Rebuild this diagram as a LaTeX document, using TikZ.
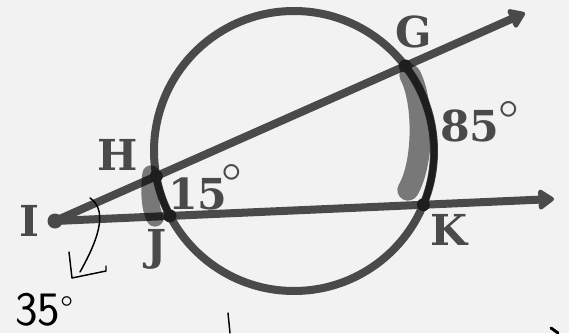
\documentclass[tikz,border=0pt]{standalone}
\usepackage{fontspec}
\newfontfamily\slabfont{DejaVu Serif}
\usetikzlibrary{arrows.meta,intersections}
\definecolor{paper}{HTML}{F2F2F2}
\definecolor{lines}{HTML}{4A4A4A}
\definecolor{ink}{HTML}{1E1E1E}

\begin{document}
\begin{tikzpicture}[x=0.75pt,y=0.75pt,
  ray/.style={draw=lines,line width=6pt,-{Triangle[length=13pt,width=17pt,round]}},
  pt/.style={font=\slabfont\bfseries\fontsize{32}{32}\selectfont,text=lines,inner sep=0pt,anchor=base},
  ring/.style={font=\fontsize{45}{45}\selectfont,text=lines,inner sep=0pt},
  blot/.style={line width=16pt,line cap=round,black,opacity=0.5},
  marked/.style={ink,line width=5pt,line cap=round},
  pen/.style={black,line width=1.1pt,line cap=round,line join=round}]
\useasboundingbox (0,0) rectangle (569,333);
\fill[paper] (0,0) rectangle (569,333);

\coordinate (O) at (294,182);
\coordinate (I) at (55,112);
\coordinate (Gtip) at (525,320);
\coordinate (Ktip) at (554,134);

\draw[lines,line width=6pt,name path=circ] (O) circle[radius=140];
\draw[ray,name path=upray] (I) -- (Gtip);
\draw[ray,name path=lowray] (I) -- (Ktip);
\fill[lines] (I) circle[radius=7.5];
\path[name intersections={of=upray and circ,sort by=upray,by={H,G}}];
\path[name intersections={of=lowray and circ,sort by=lowray,by={J,K}}];

% highlighted arcs
\draw[blot] (410,258) .. controls (424,232) and (424,170) .. (408,143);
\draw[blot,line width=13pt] (151,159) .. controls (149,140) and (150,125) .. (155,115);
\draw[marked] (G) arc[start angle=37.4,end angle=-22.6,radius=140];
\draw[marked] (H) arc[start angle=190.4,end angle=207.6,radius=140];
\foreach \p in {G,H,J,K}
  \fill[ink] (\p) circle[radius=6.5];

\node[pt] (labG) at (414,286) {G};
\node[pt] (labH) at (118,162) {H};
\node[pt] (labI) at (29,97) {I};
\node[pt] (labJ) at (157,73) {J};
\node[pt] (labK) at (449,88) {K};
\node[pt,anchor=base west] (arc15) at (168,123) {15};
\node[pt,anchor=base west] (arc85) at (440,191) {85};
\node[ring] (deg15) at (232,148) {°};
\node[ring] (deg85) at (509,211) {°};

% handwritten
\draw[pen] (90,135) .. controls (106,124) and (102,100) .. (80,61);
\draw[pen] (69,81) -- (72,55) -- (106,62) -- (106,67);
\node[inner sep=0pt,anchor=base west,font=\sffamily\fontsize{36}{36}\selectfont] (ang35) at (15,8) {35\raisebox{2pt}{\fontsize{28}{28}\selectfont°}};
\draw[pen] (228,20) -- (230,0);
\draw[pen,line width=2.2pt] (551,5) -- (558,0);
\end{tikzpicture}
\end{document}
